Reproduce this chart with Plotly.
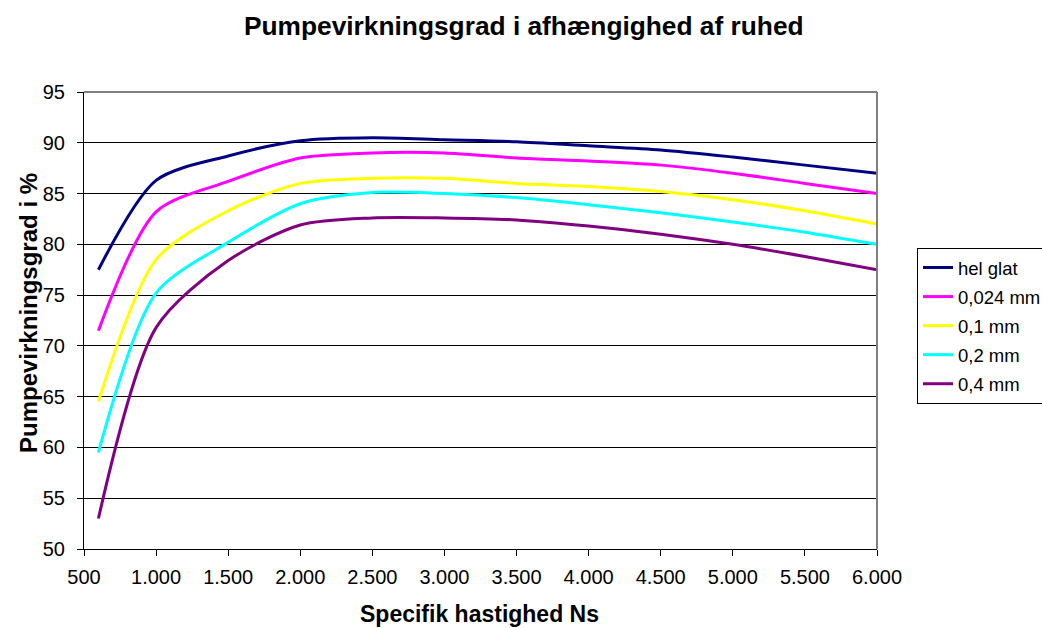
import plotly.graph_objects as go

# Specific speed Ns and pump efficiency (%) for each surface roughness
ns = [600, 1000, 1500, 2000, 2500, 3000, 3500, 4000, 4500, 5000, 5500, 6000]
hel_glat = [77.5, 86.3, 88.7, 90.2, 90.5, 90.3, 90.1, 89.7, 89.3, 88.6, 87.8, 87.0]
r_0024 = [71.5, 83.2, 86.2, 88.5, 89.0, 89.0, 88.5, 88.2, 87.8, 87.0, 86.0, 85.0]
r_01 = [64.5, 78.5, 83.3, 86.0, 86.5, 86.5, 86.0, 85.7, 85.2, 84.4, 83.3, 82.0]
r_02 = [59.5, 75.2, 80.2, 84.0, 85.1, 85.0, 84.6, 83.9, 83.1, 82.2, 81.2, 80.0]
r_04 = [53.0, 71.8, 78.4, 81.9, 82.6, 82.6, 82.4, 81.8, 81.0, 80.0, 78.8, 77.5]

series_names = ["hel glat", "0,024 mm", "0,1 mm", "0,2 mm", "0,4 mm"]
series_values = [hel_glat, r_0024, r_01, r_02, r_04]
series_colors = ["#000080", "#FF00FF", "#FFFF00", "#00FFFF", "#800080"]

x_tickvals = [500, 1000, 1500, 2000, 2500, 3000, 3500, 4000, 4500, 5000, 5500, 6000]
x_ticktext = ["500", "1.000", "1.500", "2.000", "2.500", "3.000", "3.500",
              "4.000", "4.500", "5.000", "5.500", "6.000"]

fig = go.Figure()
for i, (name, vals, col) in enumerate(zip(series_names, series_values, series_colors)):
    fig.add_trace(go.Scatter(
        x=ns, y=vals, name=name, mode="lines",
        line=dict(color=col, width=3, shape="spline", smoothing=0.8),
        legendgroup=f"g{i}",
    ))

font_family = "Liberation Sans, Arial, sans-serif"

# plot area in pixels: left 84, right 877, top 92, bottom 549
L, R, T, B = 84, 877, 92, 549
W, H = R - L, B - T


def px_x(x):
    return (x - L) / W


def px_y(y):
    return (B - y) / H


fig.update_layout(
    width=1042, height=628,
    margin=dict(l=L, r=1042 - R, t=T, b=628 - B, autoexpand=False),
    paper_bgcolor="white", plot_bgcolor="white",
    font=dict(family=font_family, size=20, color="black"),
    legend=dict(
        x=px_x(917), xanchor="left",
        y=px_y(248), yanchor="top",
        bordercolor="black", borderwidth=1, bgcolor="white",
        font=dict(size=18.5),
        tracegroupgap=2,
        traceorder="grouped",
    ),
    showlegend=True,
)

fig.add_annotation(text="<b>Pumpevirkningsgrad i afhængighed af ruhed</b>",
                   xref="paper", yref="paper", x=px_x(524), y=px_y(26),
                   xanchor="center", yanchor="middle", showarrow=False,
                   font=dict(size=26.3))
fig.add_annotation(text="<b>Specifik hastighed Ns</b>",
                   xref="paper", yref="paper", x=px_x(479), y=px_y(614),
                   xanchor="center", yanchor="middle", showarrow=False,
                   font=dict(size=23))
fig.add_annotation(text="<b>Pumpevirkningsgrad i %</b>",
                   xref="paper", yref="paper", x=px_x(28), y=px_y(313),
                   xanchor="center", yanchor="middle", showarrow=False,
                   textangle=-90, font=dict(size=24))

fig.update_xaxes(
    range=[500, 6000], tickvals=x_tickvals, ticktext=x_ticktext,
    showgrid=False, zeroline=False,
    showline=True, linecolor="black", linewidth=1,
    ticks="outside", ticklen=6, tickcolor="black",
    ticklabelstandoff=4,
)
fig.update_yaxes(
    range=[50, 95], dtick=5,
    showgrid=True, gridcolor="black", gridwidth=1, zeroline=False,
    showline=True, linecolor="black", linewidth=1,
    ticks="outside", ticklen=6, tickcolor="black",
    ticklabelstandoff=8,
)

# Grey frame on the top and right edges of the plot area
fig.add_shape(type="line", xref="paper", yref="paper", x0=0, x1=1, y0=1, y1=1,
              line=dict(color="#808080", width=2))
fig.add_shape(type="line", xref="paper", yref="paper", x0=1, x1=1, y0=0, y1=1,
              line=dict(color="#808080", width=2))

fig.write_html("out.html")
